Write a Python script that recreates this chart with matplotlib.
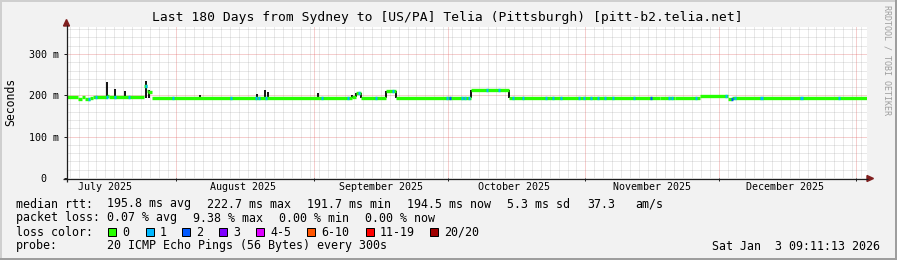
import datetime as dt
import numpy as np
import matplotlib
matplotlib.use("Agg")
import matplotlib.pyplot as plt
from matplotlib.lines import Line2D
from matplotlib.patches import Rectangle, Polygon

# ---------------- data ----------------
title = "Last 180 Days from Sydney to [US/PA] Telia (Pittsburgh) [pitt-b2.telia.net]"
end_time = dt.datetime(2026, 1, 3, 9, 11, 13)
span_days = 180

# median rtt (ms) as steps: segment start (days since start) and level
median_start_day = [0, 2.5, 3.4, 4.0, 5.2, 5.9, 9.0, 9.4, 17.4, 17.9, 18.3, 19.1,
                    64.1, 65.0, 66.2, 71.8, 74.0, 90.9, 99.5, 133.4, 136.8,
                    142.4, 148.7, 149.6]
median_ms = [195, 192, 195, 192, 193.5, 195, 199, 195, 222, 210, 207, 194.5,
             197, 206, 194.5, 210, 194.5, 213, 194, 193, 194,
             197.5, 192, 194.5]

# samples with 1/20 lost (blue) and 2/20 lost (dark blue)
loss1_day = [4.7, 6.3, 8.8, 10.6, 13.7, 17.6, 23.6, 36.7, 42.3, 43.0, 44.6,
             57.2, 63.0, 65.5, 69.3, 73.1, 85.3, 88.7, 89.3, 90.2, 94.3, 97.0,
             100.1, 102.4, 107.6, 109.1, 110.9, 115.0, 116.1, 117.7, 119.3,
             120.8, 122.6, 127.4, 135.2, 135.9, 141.3, 148.1, 150.1, 156.0,
             165.0, 173.5]
loss2_day = [86.0, 131.2, 149.4]

# smoke (ping spread) visible as dark spikes: day, low ms, high ms
smoke_day = [9.0, 10.8, 13.0, 17.8, 18.5, 29.9, 42.8, 44.6, 45.2, 56.5,
             64.1, 65.0, 66.2, 71.8, 74.0, 90.9, 94.0, 99.5]
smoke_low = [191, 194, 194, 193, 194, 194, 194, 194, 194, 194,
             194, 197, 194, 194, 194, 194, 213, 194]
smoke_high = [232, 216, 211, 234, 212, 201, 203, 214, 208, 205,
              202, 206, 206, 210, 210, 213, 216, 213]

y_major = [0, 100, 200, 300]
y_labels = ["0  ", "100 m", "200 m", "300 m"]
y_max = 365.3
month_labels = ["July 2025", "August 2025", "September 2025",
                "October 2025", "November 2025", "December 2025"]

loss_names = ["0", "1", "2", "3", "4-5", "6-10", "11-19", "20/20"]
loss_colors = ["#26ff00", "#00b8ff", "#0059ff", "#7e00ff", "#dd00ff",
               "#ff5500", "#ff0000", "#a00000"]

rtt_stats = ["195.8 ms avg", "222.7 ms max", "191.7 ms min", "194.5 ms now",
             "5.3 ms sd", "37.3", "am/s"]
loss_stats = ["0.07 % avg", "9.38 % max", "0.00 % min", "0.00 % now"]
probe_text = "20 ICMP Echo Pings (56 Bytes) every 300s"
stamp_text = "Sat Jan  3 09:11:13 2026"

# ---------------- helpers ----------------
W, H = 897, 260
start_time = end_time - dt.timedelta(days=span_days)


def tday(t):
    return (t - start_time).total_seconds() / 86400.0


def fx(x):
    return x / W


def fy(y):
    return 1 - y / H


mono = "DejaVu Sans Mono"
BG = (0.95, 0.95, 0.95)
GRID = (0.56, 0.56, 0.56, 0.4)
MGRID = (0.87, 0.31, 0.31, 0.55)
ARROW = (0.5, 0.12, 0.12)
AXIS = (0.12, 0.12, 0.12)

fig = plt.figure(figsize=(W / 100, H / 100), dpi=100, facecolor=BG)
ax = fig.add_axes([fx(67), fy(178), 800 / W, 151 / H])
ax.set_facecolor("white")
ax.set_xlim(0, span_days)
ax.set_ylim(0, y_max)
for s in ax.spines.values():
    s.set_visible(False)

# grid
month_starts = [dt.datetime(2025, m, 1) for m in range(8, 13)] + [dt.datetime(2026, 1, 1)]
month_days = [tday(m) for m in month_starts]
label_days = [tday(dt.datetime(2025, m, 16)) for m in range(7, 13)]

first_even = dt.datetime(2025, 7, 8)
minor_x = []
t = first_even
while tday(t) < span_days:
    if all(abs(tday(t) - md) > 0.3 for md in month_days):
        minor_x.append(tday(t))
    t += dt.timedelta(days=2)
minor_y = [v for v in range(20, int(y_max), 20) if v % 100 != 0]

dot = (0, (1, 1))
ax.vlines(minor_x, 0, y_max, colors=[GRID], lw=0.72, linestyles=dot, zorder=1)
ax.hlines(minor_y, 0, span_days, colors=[GRID], lw=0.72, linestyles=dot, zorder=1)
ax.vlines(month_days, 0, y_max, colors=[MGRID], lw=0.72, linestyles=dot, zorder=1.5)
ax.hlines(y_major[1:], 0, span_days, colors=[MGRID], lw=0.72, linestyles=dot, zorder=1.5)

# smoke
ax.vlines(smoke_day, smoke_low, smoke_high, colors="#111111", lw=1.4, zorder=2)

# median line (band segments, no vertical joins)
starts = np.array(median_start_day, dtype=float)
ends = np.append(starts[1:], span_days - 0.05)
lc = ax.hlines(median_ms, starts, ends, colors=loss_colors[0], lw=2.4, zorder=3)
lc.set_capstyle("butt")


def median_at(d):
    i = np.searchsorted(starts, d, side="right") - 1
    return median_ms[max(i, 0)]


w = 0.5
for days, col in ((loss1_day, loss_colors[1]), (loss2_day, loss_colors[2])):
    lvl = [median_at(d) for d in days]
    c = ax.hlines(lvl, days, [d + w for d in days], colors=col, lw=2.4, zorder=4)
    c.set_capstyle("butt")

# ticks
ax.set_yticks(y_major)
ax.set_yticklabels(y_labels, family=mono, fontsize=7.2)
ax.set_xticks(month_days)
ax.set_xticklabels([""] * len(month_days))
ax.set_xticks(label_days, minor=True)
ax.set_xticklabels(month_labels, minor=True, family=mono, fontsize=7.2)
ax.tick_params(axis="y", length=2.5, width=0.72, color=AXIS, pad=3.2)
ax.tick_params(axis="x", which="major", length=2.5, width=0.72, color=AXIS)
ax.tick_params(axis="x", which="minor", length=0, pad=3.0)
ax.set_yticks([], minor=True)

# axes lines and arrows (pixel coords)
def fline(x0, y0, x1, y1, color, lw):
    fig.add_artist(Line2D([fx(x0), fx(x1)], [fy(y0), fy(y1)], color=color,
                          lw=lw, transform=fig.transFigure, solid_capstyle="butt"))


fline(63, 178.5, 868, 178.5, AXIS, 0.9)
fline(66.5, 182, 66.5, 25, AXIS, 0.9)
fig.add_artist(Polygon([(fx(63.5), fy(26)), (fx(69.5), fy(26)), (fx(66.5), fy(19.5))],
                       closed=True, color=ARROW, transform=fig.transFigure))
fig.add_artist(Polygon([(fx(867), fy(175.5)), (fx(867), fy(181.5)), (fx(873.5), fy(178.5))],
                       closed=True, color=ARROW, transform=fig.transFigure))

# frame
fline(0, 0.5, 897, 0.5, (0.81, 0.81, 0.81), 1.44)
fline(0.5, 0, 0.5, 260, (0.81, 0.81, 0.81), 1.44)
fline(0, 259, 897, 259, (0.62, 0.62, 0.62), 1.44)
fline(896, 0, 896, 260, (0.62, 0.62, 0.62), 1.44)

# texts
fig.text(fx(447), fy(18), title, family=mono, fontsize=9.4, ha="center", va="center")
fig.text(fx(11), fy(102), "Seconds", family=mono, fontsize=8.3, rotation=90,
         ha="center", va="center")
fig.text(fx(887), fy(60), "RRDTOOL / TOBI OETIKER", family=mono, fontsize=6,
         rotation=270, ha="center", va="center", color=(0.62, 0.62, 0.62))

lf = dict(family=mono, fontsize=8.35, va="center", ha="left")
fig.text(fx(16), fy(204), "median rtt:", **lf)
for x, s in zip([107, 207, 307, 407, 507, 587, 635], rtt_stats):
    fig.text(fx(x), fy(204), s, **lf)
fig.text(fx(16), fy(218), "packet loss:", **lf)
for x, s in zip([107, 193, 279, 365], loss_stats):
    fig.text(fx(x), fy(218), s, **lf)
fig.text(fx(16), fy(232), "loss color:", **lf)
box_x = [108, 146, 182, 219, 256, 307, 366, 430]
for bx, name, col in zip(box_x, loss_names, loss_colors):
    fig.add_artist(Rectangle((fx(bx), fy(236)), 8 / W, 8 / H, facecolor=col,
                             edgecolor="black", lw=0.72, transform=fig.transFigure))
    fig.text(fx(bx + 14), fy(232), name, **lf)
fig.text(fx(16), fy(246), "probe:", **lf)
fig.text(fx(107), fy(246), probe_text, **lf)
fig.text(fx(880), fy(246), stamp_text, family=mono, fontsize=8.35, va="center", ha="right")

fig.savefig("out.png", dpi=100, facecolor=BG)
